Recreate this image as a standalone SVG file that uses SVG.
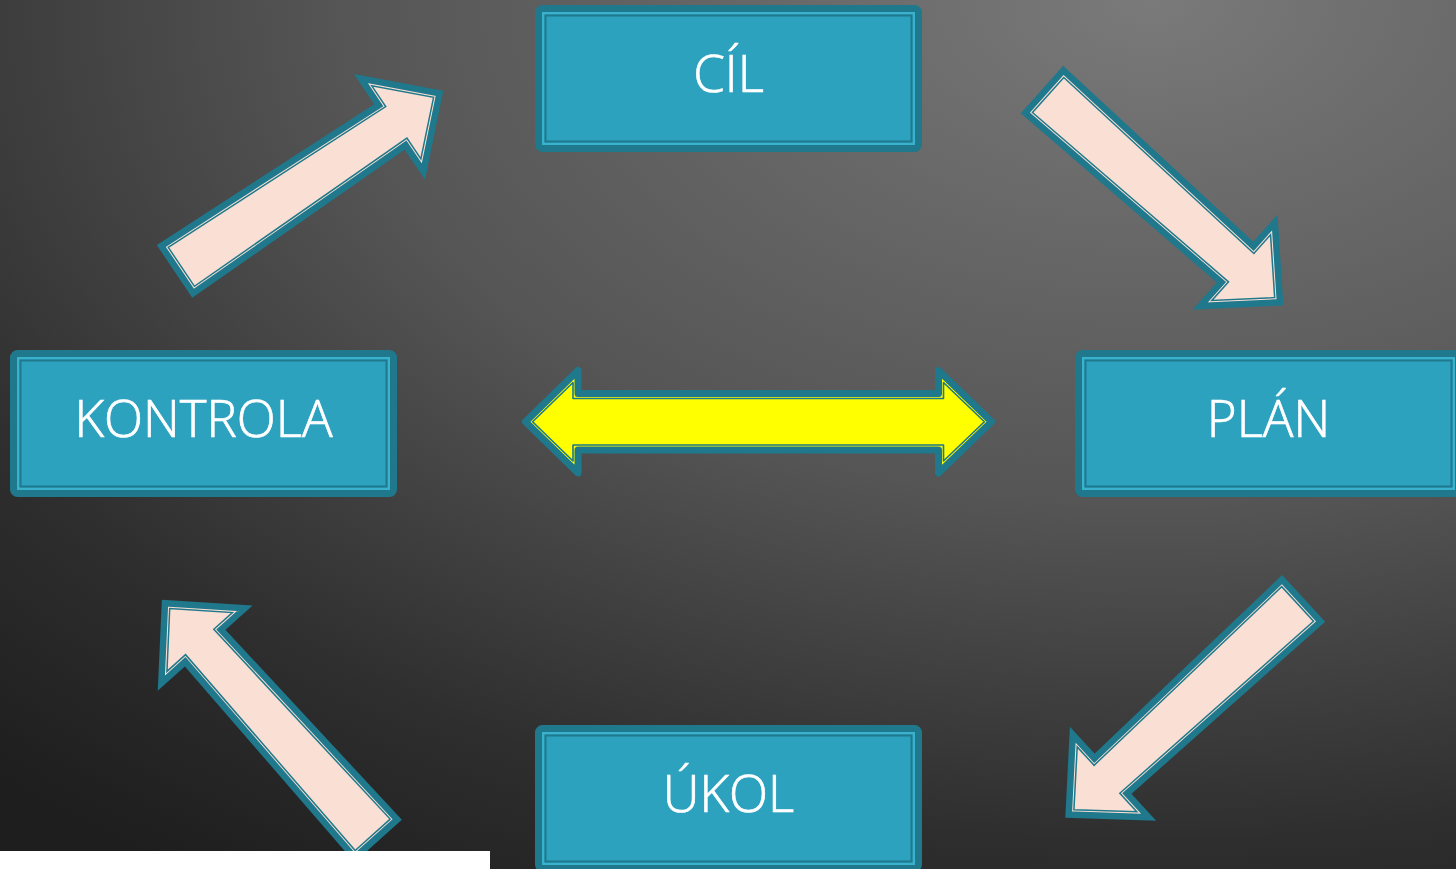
<svg xmlns="http://www.w3.org/2000/svg" width="1456" height="869" viewBox="0 0 1456 869">
  <defs>
    <radialGradient id="bg" gradientUnits="userSpaceOnUse" cx="1150" cy="0" r="1700" gradientTransform="translate(1150 0) scale(1 0.62) translate(-1150 0)">
      <stop offset="0" stop-color="#7a7a7a"/>
      <stop offset="0.143" stop-color="#6e6e6e"/>
      <stop offset="0.48" stop-color="#555555"/>
      <stop offset="0.634" stop-color="#424242"/>
      <stop offset="0.8" stop-color="#2e2e2e"/>
      <stop offset="1" stop-color="#1e1e1e"/>
    </radialGradient>
    <path id="arrOuter" d="M0,-28.5 L259,-24 L259,-56 L316,0 L259,56 L259,24 L0,28.5 Z"/>
    <path id="arrInner" d="M5,-23.5 L264,-19 L264,-44 L308.9,0 L264,44 L264,19 L5,23.5 Z"/>
  </defs>
  <style>
    .box-outer { fill: #2ca2bf; stroke: #1f788c; stroke-width: 7; }
    .box-light { fill: none; stroke: #3ab2ce; stroke-width: 2.3; }
    .box-line { fill: none; stroke: #1f788c; stroke-width: 2; }
    .label { font-family: "Open Sans", "Noto Sans", "Liberation Sans", sans-serif; font-size: 51px; font-weight: 300; fill: #ffffff; stroke: #ffffff; stroke-width: 0.7; text-anchor: middle; }
    .arr-outer { fill: #fae0d4; stroke: #1f788c; stroke-width: 6.5; stroke-linejoin: miter; stroke-miterlimit: 10; }
    .arr-inner { fill: none; stroke: #1f788c; stroke-width: 1.5; stroke-linejoin: miter; stroke-miterlimit: 10; }
    .dbl-outer { fill: #ffff00; stroke: #1f788c; stroke-width: 7; stroke-linejoin: round; }
    .dbl-inner { fill: none; stroke: #1f788c; stroke-width: 1.6; stroke-linejoin: round; }
  </style>

  <rect x="0" y="0" width="1456" height="869" fill="url(#bg)"/>

  <g id="connectors">
    <g id="arrow-kontrola-cil" transform="translate(177.2 269.6) rotate(-33.9)">
      <use href="#arrOuter" class="arr-outer"/>
      <use href="#arrInner" class="arr-inner"/>
    </g>
    <g id="arrow-cil-plan" transform="translate(1044.4 91.7) rotate(41.8)">
      <use href="#arrOuter" class="arr-outer"/>
      <use href="#arrInner" class="arr-inner"/>
    </g>
    <g id="arrow-plan-ukol" transform="translate(1301.3 600.6) rotate(137.4)">
      <use href="#arrOuter" class="arr-outer"/>
      <use href="#arrInner" class="arr-inner"/>
    </g>
    <g id="arrow-ukol-kontrola" transform="translate(376 838.5) rotate(228.1)">
      <use href="#arrOuter" class="arr-outer"/>
      <use href="#arrInner" class="arr-inner"/>
    </g>
    <g id="arrow-double">
      <path class="dbl-outer" d="M525.5,421.75 L578,370.5 L578,393.5 L938.5,393.5 L938.5,370.5 L991.5,421.75 L938.5,473 L938.5,450 L578,450 L578,473 Z"/>
      <path class="dbl-inner" d="M532.6,421.75 L573,382.5 L573,398.5 L943.5,398.5 L943.5,382.5 L984.4,421.75 L943.5,461 L943.5,445 L573,445 L573,461 Z"/>
    </g>
  </g>

  <g id="node-cil" transform="translate(535 5)">
    <rect class="box-outer" x="3.5" y="3.5" width="380" height="140" rx="4"/>
    <rect class="box-light" x="8.15" y="8.15" width="370.7" height="130.7"/>
    <rect class="box-line" x="10.5" y="10.5" width="366" height="126"/>
    <text class="label" x="193.5" y="87">CÍL</text>
  </g>

  <g id="node-kontrola" transform="translate(10 350)">
    <rect class="box-outer" x="3.5" y="3.5" width="380" height="140" rx="4"/>
    <rect class="box-light" x="8.15" y="8.15" width="370.7" height="130.7"/>
    <rect class="box-line" x="10.5" y="10.5" width="366" height="126"/>
    <text class="label" x="193.5" y="87">KONTROLA</text>
  </g>

  <g id="node-plan" transform="translate(1075 350)">
    <rect class="box-outer" x="3.5" y="3.5" width="380" height="140" rx="4"/>
    <rect class="box-light" x="8.15" y="8.15" width="370.7" height="130.7"/>
    <rect class="box-line" x="10.5" y="10.5" width="366" height="126"/>
    <text class="label" x="193.5" y="87">PLÁN</text>
  </g>

  <g id="node-ukol" transform="translate(535 725)">
    <rect class="box-outer" x="3.5" y="3.5" width="380" height="140" rx="4"/>
    <rect class="box-light" x="8.15" y="8.15" width="370.7" height="130.7"/>
    <rect class="box-line" x="10.5" y="10.5" width="366" height="126"/>
    <text class="label" x="193.5" y="87">ÚKOL</text>
  </g>

  <rect x="0" y="851" width="490" height="18" fill="#ffffff"/>
</svg>
